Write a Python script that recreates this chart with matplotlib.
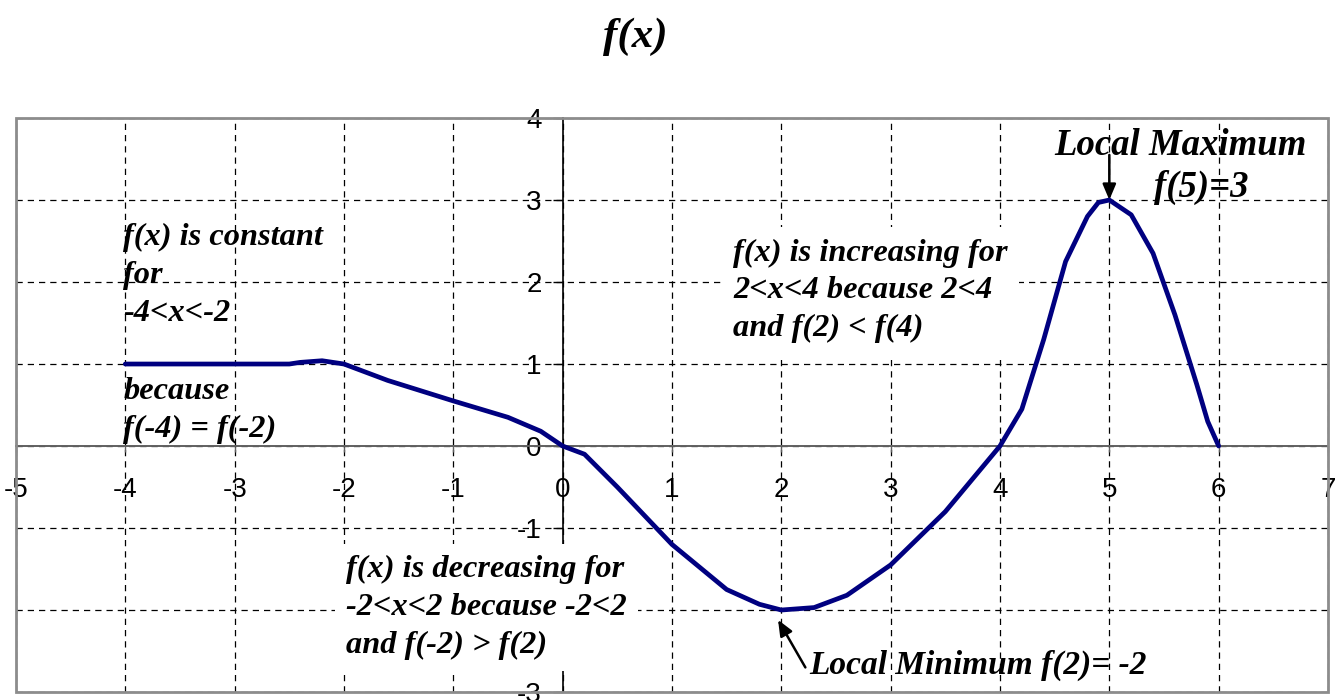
import matplotlib
matplotlib.use('Agg')
import matplotlib.pyplot as plt
from matplotlib.patches import Rectangle

# points along f(x)
x_vals = [-4, -3.5, -3, -2.5, -2.4, -2.2, -2, -1.6, -1, -0.5, -0.2, 0, 0.2, 0.5,
          1, 1.5, 1.8, 2, 2.3, 2.6, 3, 3.5, 4, 4.2, 4.4, 4.6, 4.8, 4.9, 5,
          5.2, 5.4, 5.6, 5.8, 5.9, 6]
y_vals = [1, 1, 1, 1, 1.02, 1.04, 1.0, 0.8, 0.55, 0.35, 0.18, 0, -0.1, -0.5,
          -1.2, -1.75, -1.93, -2, -1.97, -1.82, -1.45, -0.8, 0, 0.45, 1.3, 2.25,
          2.8, 2.97, 3, 2.82, 2.35, 1.6, 0.75, 0.3, 0]

x_ticks = list(range(-5, 8))
y_ticks = list(range(-3, 5))

serif = 'Liberation Serif'
note = dict(family=serif, style='italic', weight='bold', fontsize=23.3,
            linespacing=1.4)

fig = plt.figure(figsize=(13.41, 7.0), dpi=100)
ax = fig.add_axes([0.0119, 0.0114, 0.9784, 0.82])

ax.plot(x_vals, y_vals, color='#000080', lw=3.4, zorder=4, solid_capstyle='round')

ax.set_xlim(-5, 7)
ax.set_ylim(-3, 4)
ax.set_xticks(x_ticks)
ax.set_yticks(y_ticks)
ax.grid(True, color='black', lw=0.9, ls=(0, (5, 4)))

# axes cross at the origin
for side in ['top', 'right']:
    ax.spines[side].set_visible(False)
ax.spines['left'].set_position(('data', 0))
ax.spines['bottom'].set_position(('data', 0))
ax.spines['left'].set_color('black')
ax.spines['bottom'].set_color('#606060')
ax.spines['left'].set_linewidth(1.2)
ax.spines['bottom'].set_linewidth(1.4)

ax.tick_params(axis='y', direction='out', length=7, width=1, pad=8,
               labelsize=20, labelfontfamily='Liberation Sans')
ax.tick_params(axis='x', direction='out', length=4, width=1, pad=18,
               labelsize=20, labelfontfamily='Liberation Sans', color='#606060')
ax.set_xticklabels([str(t) for t in x_ticks])
ax.set_yticklabels([str(t) for t in y_ticks])

# outer frame of the plot area
ax.add_patch(Rectangle((0, 0), 1, 1, transform=ax.transAxes, fill=False,
                       ec='#8c8c8c', lw=2, zorder=2.6, clip_on=False))

fig.text(0.474, 0.947, 'f(x)', ha='center', va='center', family=serif,
         style='italic', weight='bold', fontsize=31)

ax.text(-4.02, 2.72, 'f(x) is constant\nfor\n-4<x<-2', ha='left', va='top', **note)
ax.text(-4.02, 0.84, 'because\nf(-4) = f(-2)', ha='left', va='top', **note)

white = dict(boxstyle='square,pad=0.35', fc='white', ec='none')
ax.text(1.56, 2.53, 'f(x) is increasing for\n2<x<4 because 2<4\nand f(2) < f(4)',
        ha='left', va='top', bbox=white, zorder=3, **note)
ax.text(-1.98, -1.33, 'f(x) is decreasing for\n-2<x<2 because -2<2\nand f(-2) > f(2)',
        ha='left', va='top', bbox=white, zorder=3, **note)

head = dict(arrowstyle='-|>,head_length=0.95,head_width=0.4', color='black',
            lw=1.8, shrinkA=0, shrinkB=0)

ax.text(5.65, 3.66, 'Local Maximum', ha='center', va='center', family=serif,
        style='italic', weight='bold', fontsize=26.5)
ax.text(5.84, 3.15, 'f(5)=3', ha='center', va='center', family=serif,
        style='italic', weight='bold', fontsize=26.5)
ax.annotate('', xy=(5, 3.0), xytext=(5, 3.55), arrowprops=head)

ax.text(2.26, -2.68, 'Local Minimum f(2)= -2', ha='left', va='center',
        family=serif, style='italic', weight='bold', fontsize=24)
ax.annotate('', xy=(1.97, -2.12), xytext=(2.22, -2.7), arrowprops=head)

fig.savefig('out.png', dpi=100)
